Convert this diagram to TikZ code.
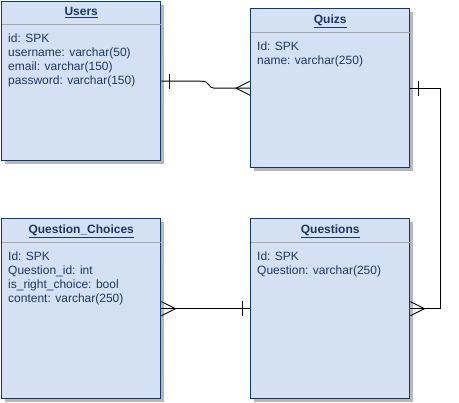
\documentclass[tikz,border=0pt]{standalone}
\usepackage{fontspec}
\setmainfont{Liberation Sans}
\usetikzlibrary{arrows.meta,positioning,calc,shadows}
\definecolor{erfill}{RGB}{212,225,245}
\definecolor{erborder}{RGB}{16,58,108}
\definecolor{ertext}{RGB}{28,56,96}
\definecolor{sepgray}{RGB}{165,165,165}

\begin{document}
\begin{tikzpicture}[x=1pt,y=-1pt,
  entity/.style={rectangle,draw=erborder,fill=erfill,line width=1.4pt,
                 minimum width=159pt,minimum height=159pt,anchor=north west,inner sep=0pt,
                 drop shadow={shadow xshift=3pt,shadow yshift=-3pt,fill=black!28,opacity=1}},
  etitle/.style={font=\bfseries\fontsize{12}{14}\selectfont,text=ertext,inner sep=0pt,anchor=north},
  efields/.style={font=\fontsize{12}{14}\selectfont,text=ertext,align=left,inner sep=0pt},
  sepline/.style={sepgray,line width=1pt},
  rel/.style={line width=0.9pt,black},
  crowfoot/.pic={\draw[rel] (0,-7) -- (-14,0) -- (0,7);},
  onebar/.pic={\draw[rel] (-8,-7.5) -- (-8,7.5);}
]
\useasboundingbox (0,0) rectangle (459,403);
% entities
\node[entity] (users)     at (1,1)     {};
\node[entity] (quizs)     at (250,8)   {};
\node[entity,minimum height=180pt] (choices)   at (1,218)   {};
\node[entity,minimum height=180pt] (questions) at (250,218) {};
% header separators
\draw[sepline] ($(users.north west)+(0.7,24)$) -- ($(users.north east)+(-0.7,24)$);
\draw[sepline] ($(quizs.north west)+(0.7,25)$) -- ($(quizs.north east)+(-0.7,25)$);
\draw[sepline] ($(choices.north west)+(0.7,25)$) -- ($(choices.north east)+(-0.7,25)$);
\draw[sepline] ($(questions.north west)+(0.7,25)$) -- ($(questions.north east)+(-0.7,25)$);
% titles
\node[etitle,below=6pt of users.north]     (usersTitle)     {\underline{Users}};
\node[etitle,below=7pt of quizs.north]     (quizsTitle)     {\underline{Quizs}};
\node[etitle,below=7pt of choices.north]   (choicesTitle)   {\underline{Question\_Choices}};
\node[etitle,below=7pt of questions.north] (questionsTitle) {\underline{Questions}};
% fields
\node[efields,below right=33pt and 7pt of users.north west] (usersFields) {%
  id: SPK\\ username: varchar(50)\\ email: varchar(150)\\ password: varchar(150)};
\node[efields,below right=34pt and 7pt of quizs.north west] (quizsFields) {%
  Id: SPK\\ name: varchar(250)};
\node[efields,below right=34pt and 7pt of choices.north west] (choicesFields) {%
  Id: SPK\\ Question\_id: int\\ is\_right\_choice: bool\\ content: varchar(250)};
\node[efields,below right=34pt and 7pt of questions.north west] (questionsFields) {%
  Id: SPK\\ Question: varchar(250)};
% relations
\draw[rel] (users.east) -- ++(40,0) .. controls +(9,0) and +(-6,0) .. ($(quizs.west)+(-36,0)$) -- (quizs.west);
\pic[rotate=180] at (users.east) {onebar};
\pic at (quizs.west) {crowfoot};
\draw[rel] (quizs.east) -- ++(30,0) |- (questions.east);
\pic[rotate=180] at (quizs.east) {onebar};
\pic[rotate=180] at (questions.east) {crowfoot};
\draw[rel] (choices.east) -- (questions.west);
\pic[rotate=180] at (choices.east) {crowfoot};
\pic at (questions.west) {onebar};
\end{tikzpicture}
\end{document}
